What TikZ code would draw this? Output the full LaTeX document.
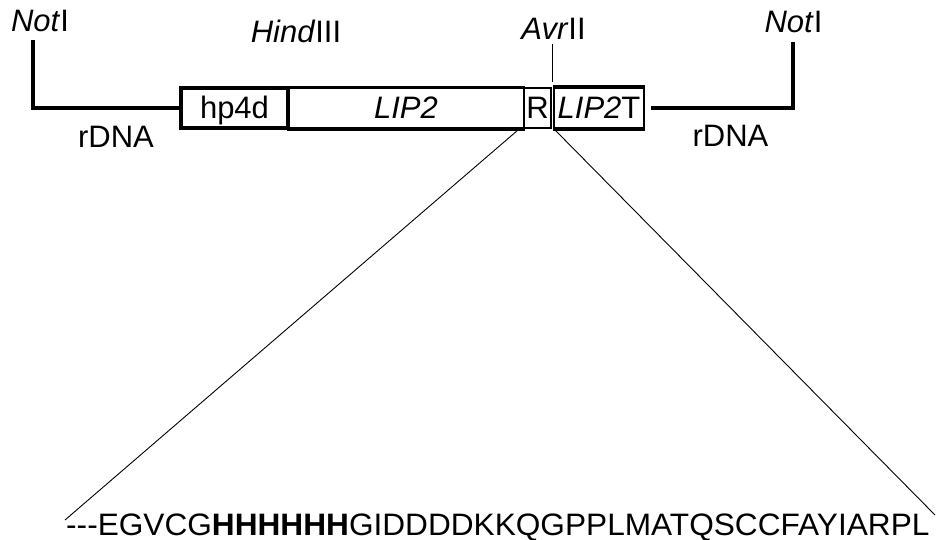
\documentclass[tikz,border=0pt]{standalone}
\usepackage{fontspec}
\usepackage{graphicx}
\setmainfont{Liberation Sans}
\begin{document}
\begin{tikzpicture}[x=1pt,y=-1pt,
  lbl/.style={inner sep=0pt, anchor=base, font=\fontsize{31}{36}\selectfont},
  rdna/.style={line width=4pt, line join=miter},
  boxn/.style={draw, inner sep=0pt, text height=22pt, text depth=0pt, minimum height=40pt, font=\fontsize{31}{36}\selectfont},
  thin/.style={line width=0.9pt}
  ]
\useasboundingbox (0,0) rectangle (941,540);
% labels
\node[lbl] (not1) at (40,32) {\textit{Not}I};
\node[lbl] (hind) at (296,43) {\textit{Hind}III};
\node[lbl] (avr) at (553.5,40) {\textit{Avr}II};
\node[lbl] (not2) at (793.5,33) {\textit{Not}I};
\node[lbl] (rdna1) at (116,148) {rDNA};
\node[lbl] (rdna2) at (730.5,147) {rDNA};
% boxes
\node[boxn, line width=3.5pt, minimum width=107pt] (hp) at (234.5,108) {hp4d};
\node[boxn, line width=1.2pt, minimum width=236pt] (lip) at (406,108) {\textit{LIP2}};
\node[boxn, line width=1.2pt, minimum width=27pt] (r) at (537.5,108) {R};
\node[boxn, line width=1.5pt, minimum width=90pt] (lipt) at (599,108) {\textit{LIP2}T};
\draw[line width=2.5pt] (lip.north west) -- (lip.north east);
\draw[line width=4pt] (lip.south west) -- (lip.south east);
\draw[line width=4pt] (lipt.north west) -- (lipt.north east);
\draw[line width=4pt] (lipt.south west) -- (lipt.south east);
% rDNA arms
\coordinate (nl) at (33,40);
\coordinate (cl) at (33,108);
\coordinate (nr) at (793,42);
\coordinate (cr) at (793,108);
\draw[rdna] (nl) -- (cl) -- (hp.west);
\draw[rdna] (lipt.east) ++(6,0) coordinate (lr) (lr) -- (cr) -- (nr);
% AvrII tick
\coordinate (at) at (552,44);
\coordinate (ab) at (552,82);
\draw[thin] (at) -- (ab);
% sequence
\node[lbl, anchor=base west] (seq) at (66,535) {\scalebox{1.02}[1]{-{}-{}-EGVCG\textbf{HHHHHH}GIDDDDKKQGPPLMATQSCCFAYIARPL}};
% zoom lines
\coordinate (z1) at (518,130);
\coordinate (z2) at (555,130);
\coordinate (s1) at (65,520);
\coordinate (s2) at (935,515);
\draw[thin] (z1) -- (s1);
\draw[thin] (z2) -- (s2);
\end{tikzpicture}
\end{document}
